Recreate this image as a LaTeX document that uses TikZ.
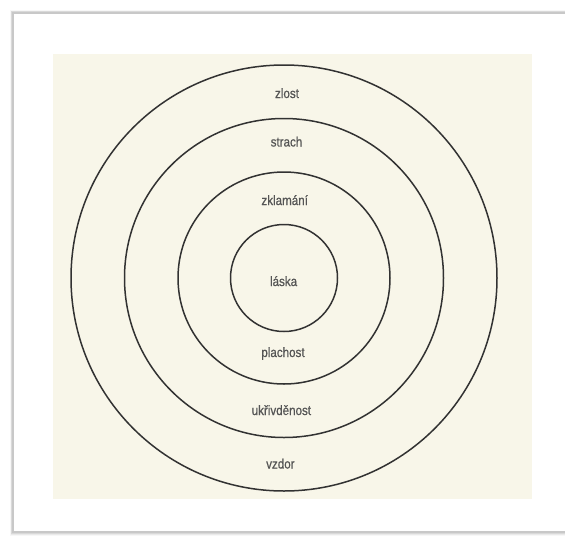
\documentclass[tikz,border=0pt]{standalone}
\usepackage{fontspec}
\newfontfamily\labfont[FakeStretch=0.86,FakeBold=0.6]{Liberation Sans}
\definecolor{cream}{RGB}{248,246,233}
\definecolor{ink}{RGB}{50,50,50}
\definecolor{txt}{RGB}{85,85,85}
\definecolor{framegray}{RGB}{200,200,200}
\begin{document}
\begin{tikzpicture}[x=1pt,y=-1pt,
  ring/.style={circle,draw=ink,line width=1.5pt,inner sep=0pt},
  lab/.style={font=\labfont\fontsize{13.5}{15}\selectfont,text=txt,inner sep=0pt,anchor=base}]
\useasboundingbox (0,0) rectangle (565,536);
\fill[white] (0,0) rectangle (565,536);
% soft frame shadow
\foreach \w/\o in {7/0.03,5/0.05,3.5/0.07,2.2/0.10} {
  \draw[black,opacity=\o,line width=\w pt] (13,13) rectangle (600,532);
}
\draw[framegray,line width=1.2pt] (13,13) rectangle (600,532);
\fill[white] (14,14) rectangle (599,531);
% cream panel
\fill[cream] (53,54) rectangle (532,499);
% rings
\coordinate (ctr) at (284,278);
\node[ring,minimum size=107pt] (r1) at (ctr) {};
\node[ring,minimum size=212pt] (r2) at (ctr) {};
\node[ring,minimum size=319pt] (r3) at (ctr) {};
\node[ring,minimum size=426pt] (r4) at (ctr) {};
% labels
\node[lab] (zlost) at (287,98) {zlost};
\node[lab] (strach) at (286.5,146.5) {strach};
\node[lab] (zklamani) at (284.7,205) {zklamání};
\node[lab] (laska) at (283.6,286) {láska};
\node[lab] (plachost) at (283,357) {plachost};
\node[lab] (ukrivdenost) at (281.4,415) {ukřivděnost};
\node[lab] (vzdor) at (280.4,468.5) {vzdor};
\end{tikzpicture}
\end{document}
